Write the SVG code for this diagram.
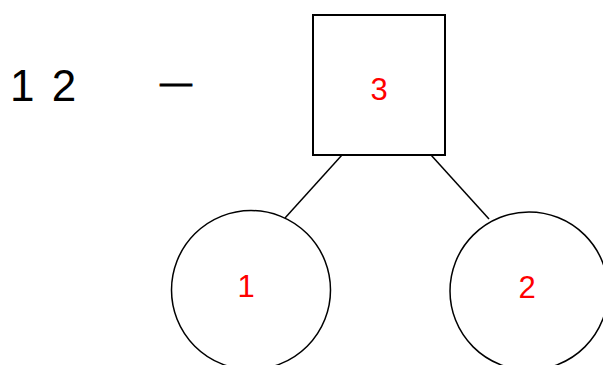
<svg xmlns="http://www.w3.org/2000/svg" width="603" height="365" viewBox="0 0 603 365">
<style>
.node{fill:#fff;stroke:#000;stroke-width:1.5}
.lbl{font-family:"Liberation Sans",Arial,sans-serif;font-size:31px;fill:#ff0000;text-anchor:middle}
.edge{stroke:#000;stroke-width:1.5;fill:none}
.t{font-family:"Liberation Sans",Arial,sans-serif;fill:#000}
</style>
<rect width="603" height="365" fill="#fff"/>
<text class="t" x="10" y="101" font-size="44" letter-spacing="2.5">1 2</text>
<text class="t" x="160" y="93" font-size="32" stroke="#000" stroke-width="0.8">—</text>
<g id="connectors">
<line class="edge" x1="342" y1="155" x2="285" y2="218"/>
<line class="edge" x1="431" y1="155" x2="489" y2="219"/>
</g>
<g id="node3">
<rect class="node" x="313" y="15" width="132" height="140" style="stroke-width:2"/>
<text class="lbl" x="379" y="100">3</text>
</g>
<g id="node1">
<circle class="node" cx="251" cy="290" r="79.5"/>
<text class="lbl" x="246" y="297">1</text>
</g>
<g id="node2">
<circle class="node" cx="529" cy="291" r="79"/>
<text class="lbl" x="527" y="298">2</text>
</g>
</svg>
